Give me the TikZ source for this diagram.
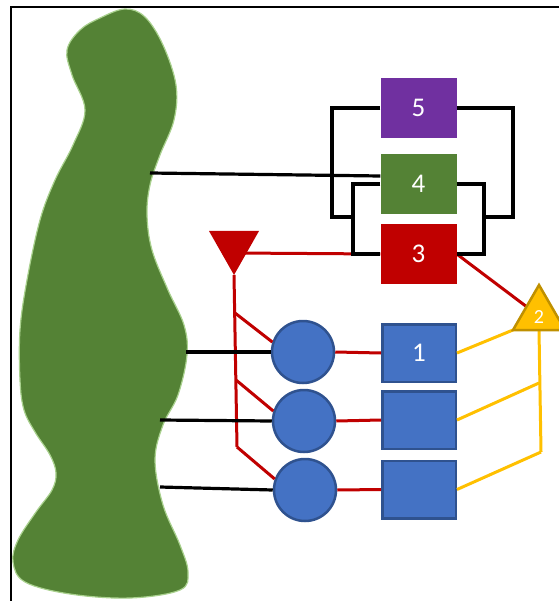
\documentclass[tikz,border=0pt]{standalone}
\usepackage{fontspec}
\setmainfont{Carlito}
\usetikzlibrary{calc}
\definecolor{leaf}{HTML}{548235}
\definecolor{leafedge}{HTML}{A9D18E}
\definecolor{plum}{HTML}{7030A0}
\definecolor{crimson}{HTML}{C00000}
\definecolor{azure}{HTML}{4472C4}
\definecolor{navyedge}{HTML}{2F528F}
\definecolor{amber}{HTML}{FFC000}
\definecolor{amberedge}{HTML}{BF9000}
\begin{document}
\begin{tikzpicture}[x=1pt,y=-1pt,
  box/.style={rectangle, minimum width=76, minimum height=60, inner sep=0pt,
    text=white, font=\fontsize{27}{30}\selectfont},
  bluebox/.style={box, fill=azure, draw=navyedge, line width=2.5pt,
    minimum width=73.5, minimum height=57.5},
  cell/.style={circle, fill=azure, draw=navyedge, line width=2.5pt,
    minimum size=62, inner sep=0pt},
  blk/.style={draw=black, line width=3.2pt},
  redl/.style={draw=crimson, line width=3pt},
  yel/.style={draw=amber, line width=3pt}]
\useasboundingbox (0,0) rectangle (558,601);

% frame
\draw[line width=1.5pt] (11,605) -- (11,7) -- (565,7);

% the green body
\filldraw[fill=leaf, draw=leafedge, line width=1.2pt]
  plot[smooth cycle, tension=0.6] coordinates {
  (125,9) (145,17) (163,45) (176,85) (174,120) (160,155) (150,185) (147,215)
  (152,250) (168,290) (184,325) (187,355) (178,395) (163,425) (155,460)
  (163,505) (180,545) (188,572) (180,590) (130,598) (70,594) (25,582)
  (13,562) (18,540) (36,512) (52,490) (56,473) (50,455) (35,432) (24,410)
  (20,380) (20,330) (27,280) (40,220) (55,180) (73,145) (85,110) (72,75)
  (67,50) (80,30) (100,18)};

% attachment points on the body
\coordinate (bodyA) at (150,173);
\coordinate (bodyB) at (186,352);
\coordinate (bodyC) at (160,420);
\coordinate (bodyD) at (160,487);

% boxes
\node[box, fill=plum] (b5) at (418.5,108) {5};
\node[box, fill=leaf] (b4) at (418.5,184) {4};
\node[box, fill=crimson] (b3) at (418.5,254) {3};
\node[bluebox] (b1) at (419,353) {1};
\node[bluebox] (b6) at (419,420) {};
\node[bluebox] (b7) at (419,489.5) {};

% cells
\node[cell] (c1) at (303,352) {};
\node[cell] (c2) at (304,421) {};
\node[cell] (c3) at (305,490) {};

% inverted red triangle
\coordinate (tipR) at (234,275);
\coordinate (spineEnd) at (237,447);
\coordinate (br1) at (235,313);
\coordinate (br2) at (236,380);

% yellow triangle
\coordinate (apexY) at (539,285);
\coordinate (baseL) at (513,330);
\coordinate (baseR) at (565,330);
\coordinate (baseM) at (539,330);
\coordinate (stemEnd) at (541,452);
\coordinate (stemMid) at (539,383);
\coordinate (sideY) at (527,307);

% red connectors
\draw[redl] (234,253) -- (b3.west);
\draw[redl] (tipR) -- (spineEnd);
\draw[redl] (br1) -- (c1.162);
\draw[redl] (br2) -- (c2.162);
\draw[redl] (spineEnd) -- (c3.160);
\draw[redl] (c1.east) -- (b1.west);
\draw[redl] (c2.east) -- (b6.west);
\draw[redl] (c3.east) -- (b7.west);
\draw[redl] (b3.east) -- (sideY);

% black connectors
\draw[blk] (bodyA) -- ($(b4.west)+(0,-8)$);
\draw[blk] (bodyB) -- (c1.west);
\draw[blk] (bodyC) -- (c2.west);
\draw[blk] (bodyD) -- (c3.west);
\draw[blk] (b5.west) -| (332,217) -- (353,217);
\draw[blk] (b4.west) -| (353,254) -- (b3.west);
\draw[blk] (b5.east) -| (513,217) -- (484,217);
\draw[blk] (b4.east) -| (484,254) -- (b3.east);

% yellow connectors
\draw[yel] (b1.east) -- (baseL);
\draw[yel] (baseM) -- (stemEnd);
\draw[yel] (b6.east) -- (stemMid);
\draw[yel] (b7.east) -- (stemEnd);

% triangles
\fill[crimson] (209,231) -- (259,231) -- (tipR) -- cycle;
\filldraw[fill=amber, draw=amberedge, line width=2.5pt, line join=miter]
  (apexY) -- (baseR) -- (baseL) -- cycle;
\node[text=white, font=\fontsize{20}{22}\selectfont, inner sep=0pt] (t2) at (539,317) {2};
\end{tikzpicture}
\end{document}
